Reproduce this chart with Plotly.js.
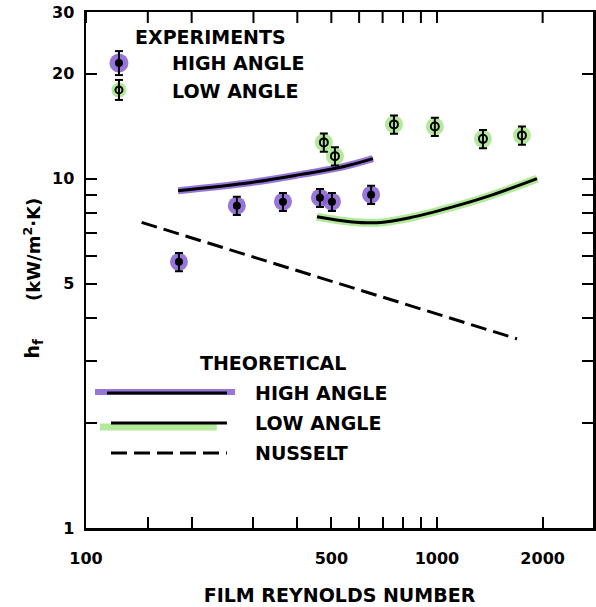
<!DOCTYPE html>
<html>
<head>
<meta charset="utf-8">
<script src="https://cdn.plot.ly/plotly-3.0.1.min.js"></script>
<style>
  html, body { margin: 0; padding: 0; background: #ffffff; }
  #chart { width: 596px; height: 607px; }
</style>
</head>
<body>
<div id="chart"></div>
<script>
// Experimental film heat-transfer coefficients (kW/m^2.K) vs film Reynolds number
const highAngleRe = [184, 269, 364, 464, 502, 649];
const highAngleH  = [5.78, 8.37, 8.59, 8.82, 8.59, 9.0];
const lowAngleRe  = [476, 512, 754, 986, 1352, 1746];
const lowAngleH   = [12.7, 11.6, 14.3, 14.1, 13.0, 13.3];
const errPercent  = 6;

// Theoretical curves
const theoryHighRe = [183, 293, 407, 540, 657];
const theoryHighH  = [9.24, 9.74, 10.27, 10.82, 11.41];
const theoryLowRe  = [455, 565, 675, 837, 1089, 1388, 1928];
const theoryLowH   = [7.78, 7.53, 7.48, 7.73, 8.26, 8.88, 10.0];
const nusseltRe    = [144, 500, 1690];
const nusseltH     = [7.5, 5.1, 3.48];

// Axis ticks: labelled majors plus unlabelled minors
const xTickVals  = [100, 500, 1000, 2000];
const xTickText  = ['100', '500', '1000', '2000'];
const xMinorVals = [150, 200, 300, 400, 600, 700, 800, 900];
const yTickVals  = [1, 5, 10, 20, 30];
const yTickText  = ['1', '5', '10', '20', '30'];
const yMinorVals = [2, 3, 4, 6, 7, 8, 9];

// Labels
const xTitle = 'FILM REYNOLDS NUMBER';
const yTitleSymbol = 'h<sub>f</sub>';
const yTitleUnits = '(kW/m<sup>2</sup>·K)';
const expHeading = 'EXPERIMENTS';
const theoryHeading = 'THEORETICAL';
const highLabel = 'HIGH ANGLE';
const lowLabel = 'LOW ANGLE';
const nusseltLabel = 'NUSSELT';

const PURPLE = 'rgba(128, 88, 210, 0.82)';
const GREEN = 'rgba(160, 228, 130, 0.8)';
const FONT = 'DejaVu Sans';
const DASH = '16px,7px';
const TICK_LEN = 11;
const PLOT_H = 607 - 12 - 79;
const X_RANGE = [2, 3.4445];
const Y_RANGE = [0, Math.log10(30)];

function errY() {
  return { type: 'percent', value: errPercent, thickness: 2, width: 4, color: '#000' };
}

// top-edge tick marks: each runs from the frame top down by TICK_LEN pixels
const topTickX = [], topTickY = [];
const yTop = Math.pow(10, Y_RANGE[1]);
const yInner = Math.pow(10, Y_RANGE[1] - TICK_LEN / PLOT_H * (Y_RANGE[1] - Y_RANGE[0]));
xTickVals.concat(xMinorVals).forEach(v => {
  topTickX.push(v, v, null);
  topTickY.push(yTop, yInner, null);
});

const traces = [
  // highlighter strokes under the theory curves
  { x: theoryHighRe, y: theoryHighH, mode: 'lines', line: { color: PURPLE, width: 7, shape: 'spline' } },
  { x: theoryLowRe, y: theoryLowH, mode: 'lines', line: { color: GREEN, width: 8, shape: 'spline' } },
  // theory curves
  { x: theoryHighRe, y: theoryHighH, mode: 'lines', line: { color: '#000', width: 3, shape: 'spline' } },
  { x: theoryLowRe, y: theoryLowH, mode: 'lines', line: { color: '#000', width: 3, shape: 'spline' } },
  { x: nusseltRe, y: nusseltH, mode: 'lines', line: { color: '#000', width: 3, dash: DASH } },
  // highlighter blobs behind the data points
  { x: highAngleRe, y: highAngleH, mode: 'markers', marker: { size: 18, color: PURPLE } },
  { x: lowAngleRe, y: lowAngleH, mode: 'markers', marker: { size: 18, color: GREEN } },
  // data points with error bars
  { x: highAngleRe, y: highAngleH, mode: 'markers', error_y: errY(),
    marker: { size: 8, color: '#000', symbol: 'circle' } },
  { x: lowAngleRe, y: lowAngleH, mode: 'markers', error_y: errY(),
    marker: { size: 8, color: '#000', symbol: 'circle-open', line: { width: 2, color: '#000' } } },
  // frame ticks on the top edge
  { x: topTickX, y: topTickY, mode: 'lines', connectgaps: false, line: { color: '#000', width: 2 } }
];
traces.forEach(t => { t.showlegend = false; t.hoverinfo = 'skip'; });

const shapes = [];

// ---- key (drawn in plot-area fractions) ----
// pixel-sized circle centred on a paper point
function dot(x, y, d, fill, outline) {
  shapes.push({ type: 'circle', xref: 'paper', yref: 'paper', xsizemode: 'pixel', ysizemode: 'pixel',
    xanchor: x, yanchor: y, x0: -d / 2, x1: d / 2, y0: -d / 2, y1: d / 2,
    fillcolor: fill, line: outline ? { color: '#000', width: 2 } : { width: 0 } });
}
// vertical error bar with caps, half-length h px
function bar(x, y, h) {
  shapes.push({ type: 'line', xref: 'paper', yref: 'paper', ysizemode: 'pixel', yanchor: y,
    x0: x, x1: x, y0: -h, y1: h, line: { color: '#000', width: 2 } });
  [-h, h].forEach(o => shapes.push({ type: 'line', xref: 'paper', yref: 'paper',
    xsizemode: 'pixel', ysizemode: 'pixel', xanchor: x, yanchor: y,
    x0: -4, x1: 4, y0: o, y1: o, line: { color: '#000', width: 2 } }));
}
function stroke(x0, x1, y, color, width, dash) {
  shapes.push({ type: 'line', xref: 'paper', yref: 'paper', x0: x0, x1: x1, y0: y, y1: y,
    line: { color: color, width: width, dash: dash || 'solid' } });
}

dot(0.065, 0.901, 19, PURPLE, false);
dot(0.065, 0.849, 15, GREEN, false);
bar(0.065, 0.901, 12);
bar(0.065, 0.849, 10);
dot(0.065, 0.901, 8, '#000', false);
dot(0.065, 0.849, 7, 'rgba(0,0,0,0)', true);

stroke(0.0178, 0.294, 0.2636, PURPLE, 6);
stroke(0.0414, 0.278, 0.2616, '#000', 3);
stroke(0.0276, 0.258, 0.1957, GREEN, 7);
stroke(0.0493, 0.278, 0.2035, '#000', 3);
stroke(0.0493, 0.278, 0.1453, '#000', 3, DASH);

const tickFont = { family: FONT, size: 16, weight: 'bold', color: '#000' };
const keyFont = { family: FONT, size: 19, weight: 'bold', color: '#000' };
const tickStyle = { ticks: 'inside', ticklen: TICK_LEN, tickwidth: 2, tickcolor: '#000' };

function label(text, x, y) {
  return { text: text, x: x, y: y, xref: 'paper', yref: 'paper', xanchor: 'left', yanchor: 'middle',
           showarrow: false, font: keyFont };
}

const layout = {
  width: 596, height: 607,
  margin: { l: 86, r: 3, t: 12, b: 79 },
  paper_bgcolor: '#ffffff', plot_bgcolor: '#ffffff',
  showlegend: false,
  xaxis: Object.assign({
    type: 'log', range: X_RANGE, showgrid: false, zeroline: false,
    showline: true, linecolor: '#000', linewidth: 2.5, mirror: true,
    tickvals: xTickVals, ticktext: xTickText, tickfont: tickFont, ticklabelstandoff: 14,
    minor: Object.assign({ tickvals: xMinorVals, showgrid: false }, tickStyle),
    title: { text: xTitle, font: { family: FONT, size: 19, weight: 'bold', color: '#000' }, standoff: 22 }
  }, tickStyle),
  yaxis: Object.assign({
    type: 'log', range: Y_RANGE, showgrid: false, zeroline: false,
    showline: true, linecolor: '#000', linewidth: 2.5, mirror: 'ticks',
    tickvals: yTickVals, ticktext: yTickText, tickfont: tickFont, ticklabelstandoff: 6,
    minor: Object.assign({ tickvals: yMinorVals, showgrid: false }, tickStyle)
  }, tickStyle),
  shapes: shapes,
  annotations: [
    { text: yTitleUnits, x: -0.134, y: 0.539, xref: 'paper', yref: 'paper', textangle: -90,
      showarrow: false, font: { family: FONT, size: 18, weight: 'bold', color: '#000' } },
    { text: yTitleSymbol, x: -0.132, y: 0.347, xref: 'paper', yref: 'paper', textangle: -90,
      showarrow: false, font: { family: FONT, size: 19, weight: 'bold', color: '#000' } },
    label(expHeading, 0.0927, 0.9516),
    label(highLabel, 0.1657, 0.901),
    label(lowLabel, 0.1657, 0.847),
    label(theoryHeading, 0.2209, 0.3198),
    label(highLabel, 0.3294, 0.2616),
    label(lowLabel, 0.3294, 0.2035),
    label(nusseltLabel, 0.3294, 0.1453)
  ]
};

Plotly.newPlot('chart', traces, layout, { staticPlot: true, displayModeBar: false });
</script>
</body>
</html>
